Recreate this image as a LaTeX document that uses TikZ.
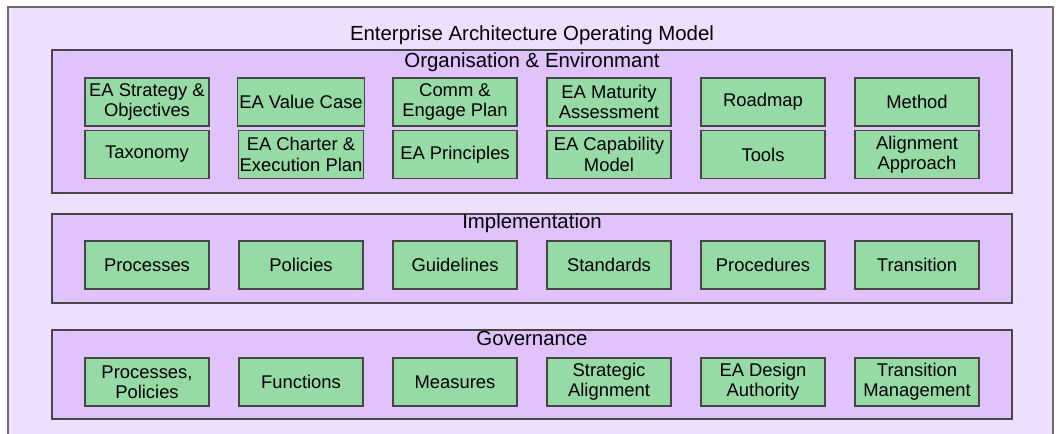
\documentclass[tikz,border=0pt]{standalone}
\usepackage{fontspec}
\setmainfont{Liberation Sans}
\definecolor{outerfill}{RGB}{239,223,255}
\definecolor{panelfill}{RGB}{224,194,252}
\definecolor{boxfill}{RGB}{150,218,166}
\definecolor{edgegray}{RGB}{70,70,70}

\begin{document}
\begin{tikzpicture}[x=0.75pt,y=-0.75pt,
  panel/.style={draw=edgegray,fill=panelfill,line width=0.8pt},
  item/.style={draw=edgegray,fill=boxfill,line width=0.8pt,minimum width=93pt,minimum height=36pt,
    inner sep=1pt,align=center,font=\fontsize{13.8}{15.2}\selectfont},
  heading/.style={font=\fontsize{15.3}{17}\selectfont,inner sep=0pt}]
\useasboundingbox (0,0) rectangle (1059,434);
\draw[draw=edgegray!80,fill=outerfill,line width=0.8pt] (8,7) rectangle (1053,445);
\node[heading] (title) at (532,35) {Enterprise Architecture Operating Model};

% organisation & environment
\draw[panel] (52,50) rectangle (1012,193);
\node[heading] (org) at (532,62) {Organisation \& Environmant};
\foreach \t [count=\i] in {{EA Strategy \&\\Objectives},{EA Value Case},{Comm \&\\Engage Plan},
    {EA Maturity\\Assessment},{Roadmap},{Method}}{
  \node[item] (org-a-\i) at ({147+154*(\i-1)},102) {\t};
}
\foreach \t [count=\i] in {{Taxonomy},{EA Charter \&\\Execution Plan},{EA Principles},
    {EA Capability\\Model},{Tools},{Alignment\\Approach}}{
  \node[item] (org-b-\i) at ({147+154*(\i-1)},154.5) {\t};
}

% implementation
\draw[panel] (52,214) rectangle (1012,303);
\node[heading] (impl) at (532,223) {Implementation};
\foreach \t [count=\i] in {Processes,Policies,Guidelines,Standards,Procedures,Transition}{
  \node[item] (impl-\i) at ({147+154*(\i-1)},265) {\t};
}

% governance
\draw[panel] (52,330) rectangle (1012,419);
\node[heading] (gov) at (532,338) {Governance};
\foreach \t [count=\i] in {{Processes,\\Policies},{Functions},{Measures},{Strategic\\Alignment},
    {EA Design\\Authority},{Transition\\Management}}{
  \node[item] (gov-\i) at ({147+154*(\i-1)},382) {\t};
}
\end{tikzpicture}
\end{document}
